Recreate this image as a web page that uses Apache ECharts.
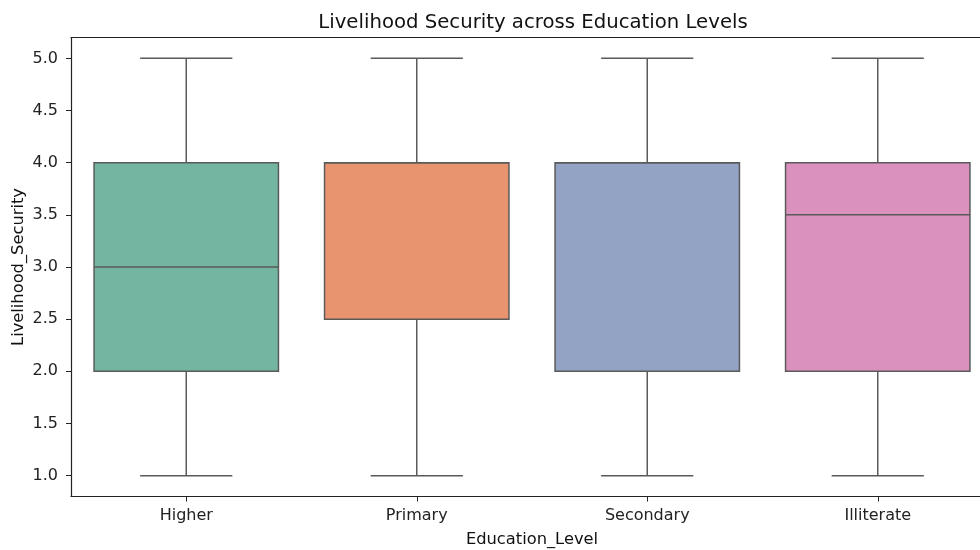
<!DOCTYPE html>
<html><head><meta charset="utf-8">
<script src="https://cdn.jsdelivr.net/npm/echarts@6/dist/echarts.min.js"></script>
<style>html,body{margin:0;padding:0;background:#fff}#c{width:980px;height:550px}</style>
</head><body><div id="c"></div>
<script>
var categories = ['Higher', 'Primary', 'Secondary', 'Illiterate'];
var mins    = [1.0, 1.0, 1.0, 1.0];
var q1s     = [2.0, 2.5, 2.0, 2.0];
var medians = [3.0, 4.0, 4.0, 3.5];
var q3s     = [4.0, 4.0, 4.0, 4.0];
var maxs    = [5.0, 5.0, 5.0, 5.0];
var yTicks  = [1.0, 1.5, 2.0, 2.5, 3.0, 3.5, 4.0, 4.5, 5.0];
var colors  = ['#73b5a0', '#e8956f', '#93a3c3', '#db91bd'];

var lineColor = '#5a5a5a';
var data = categories.map(function (c, i) { return [i, mins[i], q1s[i], medians[i], q3s[i], maxs[i]]; });

var chart = echarts.init(document.getElementById('c'), null, {renderer: 'canvas'});
var font = 'DejaVu Sans';
var fs = 16;
chart.setOption({
  animation: false,
  backgroundColor: '#fff',
  title: {
    text: 'Livelihood Security across Education Levels',
    left: 528, top: 8, textAlign: 'center',
    textStyle: {fontFamily: font, fontSize: 19.7, fontWeight: 'normal', color: '#111'}
  },
  grid: {left: 71, top: 37.5, width: 922, height: 459, outerBoundsMode: 'none', containLabel: false},
  xAxis: [{
    type: 'category', data: categories, boundaryGap: true,
    name: 'Education_Level', nameLocation: 'middle', nameGap: 35, nameMoveOverlap: false,
    nameTextStyle: {fontFamily: font, fontSize: 16.3, color: '#111'},
    axisLine: {show: true, lineStyle: {color: '#222', width: 1.2}},
    axisTick: {show: true, alignWithLabel: true, length: 5, lineStyle: {color: '#222', width: 1}},
    axisLabel: {fontFamily: font, fontSize: fs, color: '#222', margin: 11}
  }, {
    type: 'category', data: categories, position: 'top', boundaryGap: true,
    axisLine: {show: true, lineStyle: {color: '#222', width: 1.2}},
    axisTick: {show: false}, axisLabel: {show: false}, splitLine: {show: false}
  }],
  yAxis: {
    type: 'value', min: 0.8, max: 5.2,
    name: 'Livelihood_Security', nameLocation: 'middle', nameGap: 44, nameRotate: 90, nameMoveOverlap: false,
    nameTextStyle: {fontFamily: font, fontSize: 16.3, color: '#111'},
    splitLine: {show: false},
    axisLine: {show: true, lineStyle: {color: '#222', width: 1.2}},
    axisTick: {show: true, length: 5, customValues: yTicks, lineStyle: {color: '#222', width: 1}},
    axisLabel: {fontFamily: font, fontSize: fs, color: '#222', margin: 13, customValues: yTicks,
      formatter: function (v) { return Number(v).toFixed(1); }}
  },
  series: [{
    type: 'custom',
    data: data,
    encode: {x: 0, y: [1, 2, 3, 4, 5]},
    renderItem: function (params, api) {
      var i = api.value(0);
      var band = api.size([1, 0])[0];
      var bw = band * 0.8, cw = band * 0.4;
      var pMin = api.coord([i, api.value(1)]);
      var pQ1 = api.coord([i, api.value(2)]);
      var pMed = api.coord([i, api.value(3)]);
      var pQ3 = api.coord([i, api.value(4)]);
      var pMax = api.coord([i, api.value(5)]);
      var cx = pQ1[0];
      var ls = {stroke: lineColor, lineWidth: 1.5};
      return {type: 'group', children: [
        {type: 'line', shape: {x1: cx, y1: pQ1[1], x2: cx, y2: pMin[1]}, style: ls},
        {type: 'line', shape: {x1: cx, y1: pQ3[1], x2: cx, y2: pMax[1]}, style: ls},
        {type: 'line', shape: {x1: cx - cw / 2, y1: pMin[1], x2: cx + cw / 2, y2: pMin[1]}, style: ls},
        {type: 'line', shape: {x1: cx - cw / 2, y1: pMax[1], x2: cx + cw / 2, y2: pMax[1]}, style: ls},
        {type: 'rect', shape: {x: cx - bw / 2, y: pQ3[1], width: bw, height: pQ1[1] - pQ3[1]},
          style: {fill: colors[i], stroke: lineColor, lineWidth: 1.5}},
        {type: 'line', shape: {x1: cx - bw / 2, y1: pMed[1], x2: cx + bw / 2, y2: pMed[1]}, style: ls}
      ]};
    }
  }]
});
</script></body></html>
